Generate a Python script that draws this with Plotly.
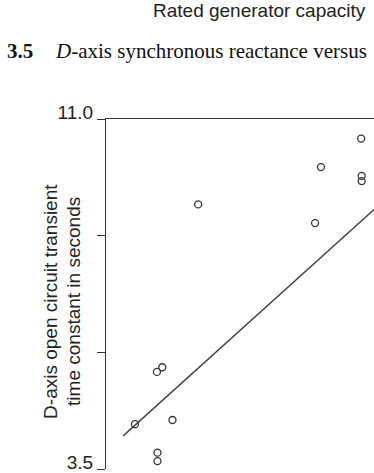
import plotly.graph_objects as go

# Data (x: rated generator capacity, MVA; y: T'do in seconds)
capacity_mva = [476, 401, 477, 477, 172, 390, 95, 105, 54, 124, 96, 96]
tdo_seconds = [10.58, 9.97, 9.78, 9.67, 9.17, 8.77, 5.58, 5.68, 4.46, 4.55, 3.85, 3.67]

fit_x = [32, 500]
fit_y = [4.21, 9.06]

y_tickvals = [3.5, 6.0, 8.5, 11.0]
y_ticktext = ["3.5", "", "", "11.0"]

ink = "#333333"
sans = "Liberation Sans, Arial, sans-serif"
serif = "Liberation Serif, Times New Roman, serif"

fig = go.Figure()
fig.add_trace(go.Scatter(x=fit_x, y=fit_y, mode="lines",
                         line=dict(color="#444444", width=1.4),
                         showlegend=False, hoverinfo="skip"))
fig.add_trace(go.Scatter(x=capacity_mva, y=tdo_seconds, mode="markers",
                         marker=dict(symbol="circle-open", size=7, color=ink,
                                     line=dict(color=ink, width=1.3)),
                         showlegend=False))

fig.update_layout(
    width=374, height=473,
    margin=dict(l=106, r=0, t=119, b=0),
    paper_bgcolor="white", plot_bgcolor="white",
    xaxis=dict(range=[0, 500], side="top", showline=True, linecolor=ink, linewidth=1.3,
               showgrid=False, zeroline=False, showticklabels=False, ticks=""),
    yaxis=dict(range=[3.5, 11.0], showline=True, linecolor=ink, linewidth=1.3,
               showgrid=False, zeroline=False, ticks="outside", ticklen=8,
               tickwidth=1.3, tickcolor=ink, tickvals=y_tickvals, ticktext=y_ticktext,
               tickfont=dict(family=sans, size=19, color="#222222"),
               ticklabelshift=-7, ticklabeloverflow="allow"),
    annotations=[
        dict(text="Rated generator capacity", xref="paper", yref="paper",
             x=(368 - 106) / 268, y=(473 - 9) / 354, xanchor="right", yanchor="middle",
             showarrow=False, font=dict(family=sans, size=19, color="#222222")),
        dict(text="<b>3.5</b>", xref="paper", yref="paper",
             x=(5 - 106) / 268, y=(473 - 50) / 354, xanchor="left", yanchor="middle",
             showarrow=False, font=dict(family=serif, size=21, color="#111111")),
        dict(text="<i>D</i>-axis synchronous reactance versus", xref="paper", yref="paper",
             x=(53 - 106) / 268, y=(473 - 50) / 354, xanchor="left", yanchor="middle",
             showarrow=False, font=dict(family=serif, size=21, color="#111111")),
        dict(text="D-axis open circuit transient", xref="paper", yref="paper",
             x=(51 - 106) / 268, y=(473 - 304) / 354, xanchor="center", yanchor="middle",
             textangle=-90, showarrow=False, font=dict(family=sans, size=19, color="#222222")),
        dict(text="time constant in seconds", xref="paper", yref="paper",
             x=(74 - 106) / 268, y=(473 - 304) / 354, xanchor="center", yanchor="middle",
             textangle=-90, showarrow=False, font=dict(family=sans, size=19, color="#222222")),
    ],
)

fig.write_html("out.html")
